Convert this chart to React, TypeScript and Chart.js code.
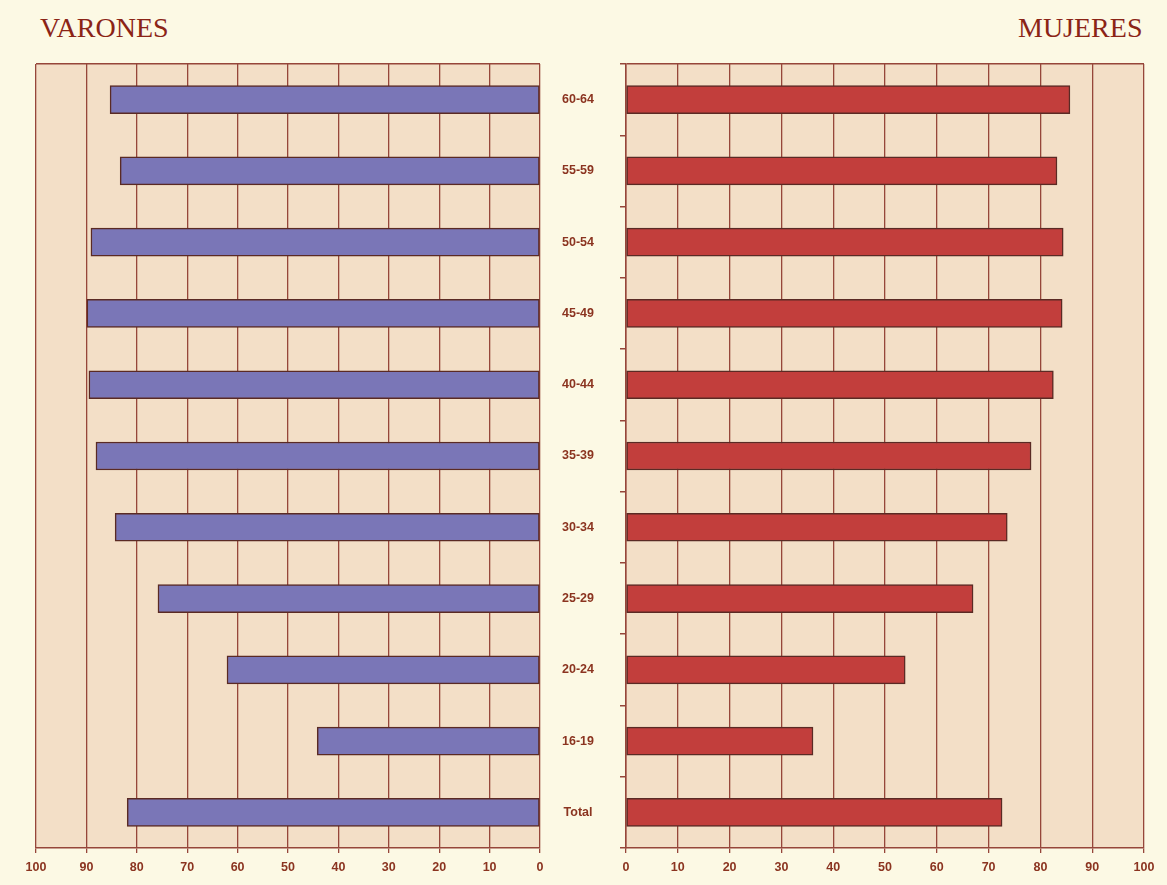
import React, { useEffect, useRef } from "react";
import { Chart, registerables } from "chart.js";

Chart.register(...registerables);

const ageGroups = ["60-64", "55-59", "50-54", "45-49", "40-44", "35-39", "30-34", "25-29", "20-24", "16-19", "Total"];
const varones = [85.3, 83.3, 89.1, 89.9, 89.5, 88.1, 84.3, 75.8, 62.1, 44.2, 81.9];
const mujeres = [85.7, 83.2, 84.4, 84.2, 82.5, 78.2, 73.6, 67.0, 53.9, 36.1, 72.6];
const axisMin = 0;
const axisMax = 100;
const axisStep = 10;

const GRID = "#96463a";
const TEXT = "#8b3420";
const PLOT_BG = "#f3dfc7";
const PAGE_BG = "#fcf9e4";

const plotBg = {
  id: "plotBg",
  beforeDraw(chart: any) {
    const { ctx, chartArea } = chart;
    if (!chartArea) return;
    ctx.save();
    ctx.fillStyle = PLOT_BG;
    ctx.fillRect(chartArea.left, chartArea.top, chartArea.width, chartArea.height);
    ctx.restore();
  },
};

const tickFont = { family: "'Liberation Sans', Arial, sans-serif", size: 12.5, weight: "bold" as const };

function xScale(reverse: boolean) {
  return {
    type: "linear" as const,
    min: axisMin,
    max: axisMax,
    reverse,
    afterFit(scale: any) {
      scale.height = 27;
    },
    ticks: { stepSize: axisStep, color: TEXT, font: tickFont, padding: 7 },
    grid: { color: GRID, lineWidth: 1.3, tickLength: 5, tickColor: GRID },
    border: { display: true, color: GRID, width: 1.5 },
  };
}

export default function App() {
  const leftRef = useRef<HTMLCanvasElement>(null);
  const rightRef = useRef<HTMLCanvasElement>(null);

  useEffect(() => {
    const left = new Chart(leftRef.current as HTMLCanvasElement, {
      type: "bar",
      data: {
        labels: ageGroups,
        datasets: [
          {
            label: "Varones",
            data: varones,
            backgroundColor: "#7a76b7",
            borderColor: "#5a2a24",
            borderWidth: 1.5,
            borderSkipped: false,
            barThickness: 28,
          },
        ],
      },
      options: {
        indexAxis: "y",
        animation: false,
        responsive: false,
        maintainAspectRatio: false,
        layout: { padding: { left: 36, right: 20, top: 64, bottom: 10 } },
        plugins: { legend: { display: false }, tooltip: { enabled: false }, title: { display: false } },
        scales: {
          x: xScale(true),
          y: {
            type: "category",
            position: "right",
            afterFit(scale: any) {
              scale.width = 0;
            },
            ticks: { display: false },
            grid: {
              drawTicks: false,
              lineWidth: 1.5,
              color: (ctx: any) => (ctx.index === 0 ? GRID : "rgba(0,0,0,0)"),
            },
            border: { display: false },
          },
        },
      },
      plugins: [plotBg],
    });

    const right = new Chart(rightRef.current as HTMLCanvasElement, {
      type: "bar",
      data: {
        labels: ageGroups,
        datasets: [
          {
            label: "Mujeres",
            data: mujeres,
            backgroundColor: "#c23e3c",
            borderColor: "#5a2a24",
            borderWidth: 1.5,
            borderSkipped: false,
            barThickness: 28,
          },
        ],
      },
      options: {
        indexAxis: "y",
        animation: false,
        responsive: false,
        maintainAspectRatio: false,
        layout: { padding: { left: 0, right: 23, top: 64, bottom: 10 } },
        plugins: { legend: { display: false }, tooltip: { enabled: false }, title: { display: false } },
        scales: {
          x: xScale(false),
          y: {
            type: "category",
            position: "left",
            afterFit(scale: any) {
              scale.width = 86;
            },
            ticks: { color: TEXT, font: tickFont, crossAlign: "center", padding: 26 },
            grid: {
              drawTicks: true,
              tickLength: 6,
              tickColor: GRID,
              lineWidth: 1.5,
              color: (ctx: any) => (ctx.index === 0 ? GRID : "rgba(0,0,0,0)"),
            },
            border: { display: true, color: GRID, width: 1.5 },
          },
        },
      },
      plugins: [plotBg],
    });

    return () => {
      left.destroy();
      right.destroy();
    };
  }, []);

  const titleStyle: React.CSSProperties = {
    position: "absolute",
    top: 14,
    fontFamily: "'Liberation Serif', 'Times New Roman', serif",
    fontSize: 28,
    lineHeight: "28px",
    color: "#8b2416",
    whiteSpace: "nowrap",
  };

  return (
    <div style={{ position: "absolute", left: 0, top: 0, width: 1167, height: 885, background: PAGE_BG, overflow: "hidden" }}>
      <div style={{ ...titleStyle, left: 40 }}>VARONES</div>
      <div style={{ ...titleStyle, left: 1018 }}>MUJERES</div>
      <canvas ref={leftRef} width={560} height={885} style={{ position: "absolute", left: 0, top: 0, width: 560, height: 885 }} />
      <canvas ref={rightRef} width={627} height={885} style={{ position: "absolute", left: 540, top: 0, width: 627, height: 885 }} />
    </div>
  );
}
